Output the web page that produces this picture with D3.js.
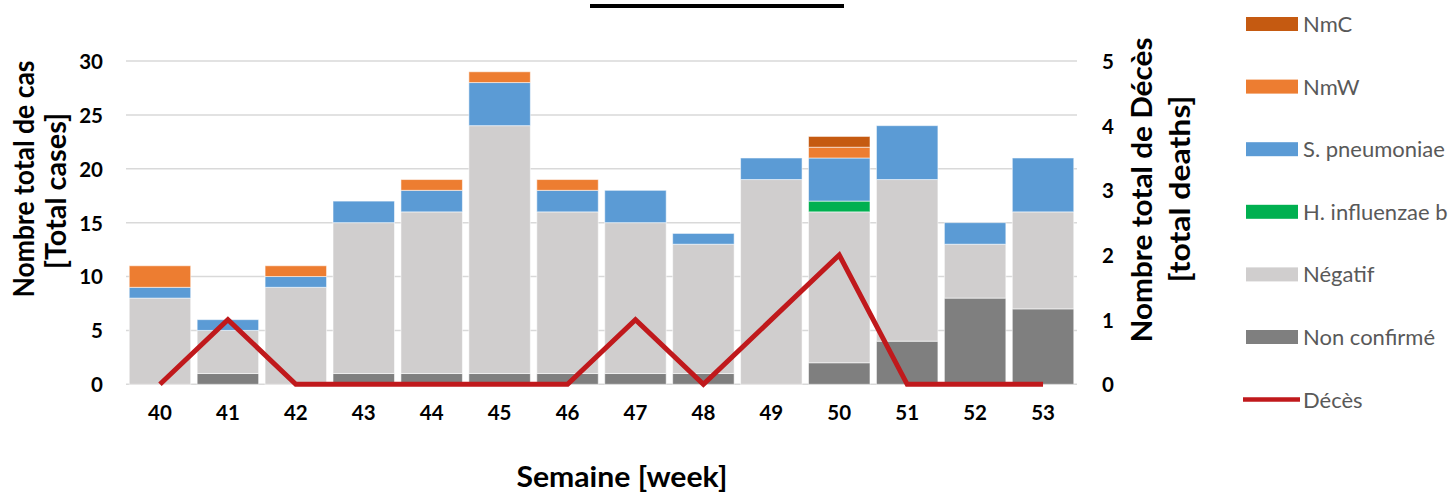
<!DOCTYPE html>
<html><head><meta charset="utf-8">
<script src="https://cdn.jsdelivr.net/npm/d3@7"></script>
<style>body{margin:0;background:#fff}svg{display:block}</style>
</head><body>
<svg id="c" width="1451" height="493"></svg>
<script>
const weeks = ["40","41","42","43","44","45","46","47","48","49","50","51","52","53"];
const nonConfirme = [0,1,0,1,1,1,1,1,1,0,2,4,8,7];
const negatif     = [8,4,9,14,15,23,15,14,12,19,14,15,5,9];
const hInfluenzae = [0,0,0,0,0,0,0,0,0,0,1,0,0,0];
const sPneumoniae = [1,1,1,2,2,4,2,3,1,2,4,5,2,5];
const nmW         = [2,0,1,0,1,1,1,0,0,0,1,0,0,0];
const nmC         = [0,0,0,0,0,0,0,0,0,0,1,0,0,0];
const deces       = [0,1,0,0,0,0,0,1,0,1,2,0,0,0];
const leftTicks = [0,5,10,15,20,25,30];
const rightTicks = [0,1,2,3,4,5];

const seriesNames = ["Non confirmé","Négatif","H. influenzae b","S. pneumoniae","NmW","NmC"];
const seriesData = [nonConfirme, negatif, hInfluenzae, sPneumoniae, nmW, nmC];
const colors = {"NmC":"#c55a11","NmW":"#ed7d31","S. pneumoniae":"#5b9bd5","H. influenzae b":"#00b050","Négatif":"#d0cece","Non confirmé":"#7f7f7f"};
const lineColor = "#c0191c";
const font = "Lato, 'Open Sans', sans-serif";

const svg = d3.select("#c");
const pLeft = 126, pRight = 1077, pTop = 61, pBottom = 384.3;

const x = d3.scaleBand().domain(weeks).range([pLeft, pRight]).paddingInner(0.095).paddingOuter(0.0475);
const y = d3.scaleLinear().domain([0,30]).range([pBottom, pTop]);
const y2 = d3.scaleLinear().domain([0,5]).range([pBottom, pTop]);

// title bar
svg.append("rect").attr("x",590).attr("y",4).attr("width",254).attr("height",4).attr("fill","#000");

// gridlines
svg.append("g").selectAll("line").data(leftTicks).join("line")
  .attr("x1",pLeft).attr("x2",pRight).attr("y1",d=>y(d)).attr("y2",d=>y(d))
  .attr("stroke","#d9d9d9").attr("stroke-width",1.5);

// stacked bars
const table = weeks.map((w,i)=>{const o={week:w}; seriesNames.forEach((s,k)=>o[s]=seriesData[k][i]); return o;});
const stack = d3.stack().keys(seriesNames)(table);
svg.append("g").selectAll("g").data(stack).join("g").attr("fill",d=>colors[d.key])
  .selectAll("rect").data(d=>d.filter(p=>p[1]>p[0])).join("rect")
  .attr("x",d=>x(d.data.week)).attr("width",x.bandwidth())
  .attr("y",d=>y(d[1])).attr("height",d=>y(d[0])-y(d[1]))
  .attr("stroke","#ffffff").attr("stroke-opacity",0.55).attr("stroke-width",1);

// deaths line
const line = d3.line().x((d,i)=>x(weeks[i])+x.bandwidth()/2).y(d=>y2(d));
svg.append("path").datum(deces).attr("d",line).attr("fill","none")
  .attr("stroke",lineColor).attr("stroke-width",5).attr("stroke-linejoin","miter");

// axes
const axL = d3.axisLeft(y).tickValues(leftTicks).tickFormat(d3.format("d")).tickSize(0).tickPadding(0);
const gL = svg.append("g").attr("transform",`translate(${pLeft-23},0)`).call(axL);
const axR = d3.axisRight(y2).tickValues(rightTicks).tickFormat(d3.format("d")).tickSize(0).tickPadding(0);
const gR = svg.append("g").attr("transform",`translate(${pRight+25},0)`).call(axR);
const axB = d3.axisBottom(x).tickSize(0).tickPadding(0);
const gB = svg.append("g").attr("transform",`translate(0,${pBottom+21})`).call(axB);
[gL,gR,gB].forEach(g=>{g.select(".domain").remove();
  g.selectAll("text").attr("font-family",font).attr("font-weight","bold").attr("font-size",20.5).attr("fill","#000");});
gL.selectAll("text").attr("dy","0.36em");
gR.selectAll("text").attr("dy","0.36em");

// axis titles
const at = (txt,xx,yy,rot,size,len)=>svg.append("text").attr("transform",`translate(${xx},${yy}) rotate(${rot})`)
  .attr("text-anchor","middle").attr("font-family",font).attr("font-weight","bold").attr("font-size",size).attr("fill","#000")
  .attr("textLength",len).attr("lengthAdjust","spacingAndGlyphs").text(txt);
at("Nombre total de cas",34,179,-90,28.5,237);
at("[Total cases]",66,191,-90,28.5,156);
at("Nombre total de Décès",1152,190,-90,28.5,305);
at("[total deaths]",1190,189,-90,28.5,187);
at("Semaine [week]",622,487,0,28.5,211);

// legend
const legendItems = ["NmC","NmW","S. pneumoniae","H. influenzae b","Négatif","Non confirmé","Décès"];
const lg = svg.append("g");
legendItems.forEach((name,i)=>{
  const cy = 24 + i*62.6;
  if(name==="Décès"){
    lg.append("line").attr("x1",1243).attr("x2",1300).attr("y1",cy).attr("y2",cy).attr("stroke",lineColor).attr("stroke-width",4.5);
  } else {
    lg.append("rect").attr("x",1246).attr("y",cy-7).attr("width",52).attr("height",14).attr("fill",colors[name]);
  }
  lg.append("text").attr("x",1303).attr("y",cy).attr("dy","0.36em").attr("font-family",font).attr("font-size",22).attr("fill","#595959").text(name);
});
</script>
</body></html>
